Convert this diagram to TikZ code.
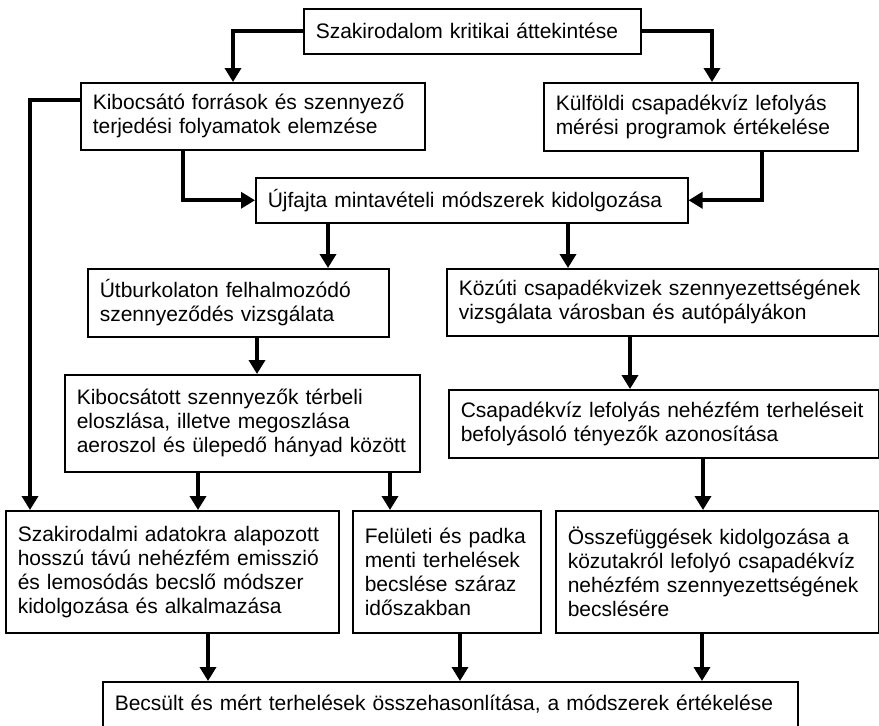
\documentclass[tikz,border=0pt]{standalone}
\usepackage{fontspec}
\setmainfont{Liberation Sans}
\usetikzlibrary{arrows.meta}

\begin{document}
\begin{tikzpicture}[x=0.5pt, y=-0.5pt, %Egység: a kép egy képpontja, lefelé növekvő y
	doboz/.style={draw, line width=0.75pt, anchor=north west, align=left, inner xsep=6pt, font=\fontsize{10.5}{12}\selectfont},
	nyil/.style={line width=2pt, -{Triangle[width=8pt, length=7pt]}}]
	\useasboundingbox (0,0) rectangle (879,725); %Keret
		%Dobozok
	\node[doboz, text width=156.5pt, minimum height=22.5pt] (irodalom) at (303,8) {Szakirodalom kritikai áttekintése}; %Kiinduló doboz
	\node[doboz, text width=160pt, minimum height=33.5pt] (forrasok) at (80,82) {Kibocsátó források és szennyező\\terjedési folyamatok elemzése};
	\node[doboz, text width=145pt, minimum height=34pt] (kulfoldi) at (543,82) {Külföldi csapadékvíz lefolyás\\mérési programok értékelése};
	\node[doboz, text width=204pt, minimum height=22.5pt] (ujfajta) at (255,177) {Újfajta mintavételi módszerek kidolgozása};
	\node[doboz, text width=138.5pt, minimum height=34pt] (utburk) at (87,268) {Útburkolaton felhalmozódó\\szennyeződés vizsgálata};
	\node[doboz, text width=204pt, minimum height=33.5pt] (kozuti) at (446,268) {Közúti csapadékvizek szennyezettségének\\vizsgálata városban és autópályákon};
	\node[doboz, text width=165.5pt, minimum height=48.5pt] (eloszlas) at (64,374) {Kibocsátott szennyezők térbeli\\eloszlása, illetve megoszlása\\aeroszol és ülepedő hányad között};
	\node[doboz, text width=203pt, minimum height=34pt] (tenyezok) at (448,389) {Csapadékvíz lefolyás nehézfém terheléseit\\befolyásoló tényezők azonosítása};
	\node[doboz, text width=154.5pt, minimum height=61pt] (szakirod) at (5,510) {Szakirodalmi adatokra alapozott\\hosszú távú nehézfém emisszió\\és lemosódás becslő módszer\\kidolgozása és alkalmazása};
	\node[doboz, text width=82pt, minimum height=61pt] (feluleti) at (352,510) {Felületi és padka\\menti terhelések\\becslése száraz\\időszakban};
	\node[doboz, text width=149.5pt, minimum height=61pt] (osszef) at (555,510) {Összefüggések kidolgozása a\\közutakról lefolyó csapadékvíz\\nehézfém szennyezettségének\\becslésére};
	\node[doboz, text width=335.5pt, minimum height=22.5pt] (becsles) at (102,681) {Becsült és mért terhelések összehasonlítása, a módszerek értékelése}; %Záró doboz
		%Nyilak
	\draw[nyil] (irodalom.west) -| (233,0 |- forrasok.north); %Balra le
	\draw[nyil] (irodalom.east) -| (712,0 |- kulfoldi.north); %Jobbra le
	\draw[nyil] (forrasok.west |- 0,100) -| (30,0 |- szakirod.north); %Hosszú bal oldali ág
	\draw[nyil] (183,0 |- forrasok.south) |- (ujfajta.west);
	\draw[nyil] (762,0 |- kulfoldi.south) |- (ujfajta.east);
	\draw[nyil] (328,0 |- ujfajta.south) -- (328,0 |- utburk.north);
	\draw[nyil] (568,0 |- ujfajta.south) -- (568,0 |- kozuti.north);
	\draw[nyil] (257,0 |- utburk.south) -- (257,0 |- eloszlas.north);
	\draw[nyil] (630,0 |- kozuti.south) -- (630,0 |- tenyezok.north);
	\draw[nyil] (198,0 |- eloszlas.south) -- (198,0 |- szakirod.north);
	\draw[nyil] (390,0 |- eloszlas.south) -- (390,0 |- feluleti.north);
	\draw[nyil] (703,0 |- tenyezok.south) -- (703,0 |- osszef.north);
	\draw[nyil] (208,0 |- szakirod.south) -- (208,0 |- becsles.north); %Összegzés felé
	\draw[nyil] (460,0 |- feluleti.south) -- (460,0 |- becsles.north);
	\draw[nyil] (702,0 |- osszef.south) -- (702,0 |- becsles.north);
\end{tikzpicture}
\end{document}
